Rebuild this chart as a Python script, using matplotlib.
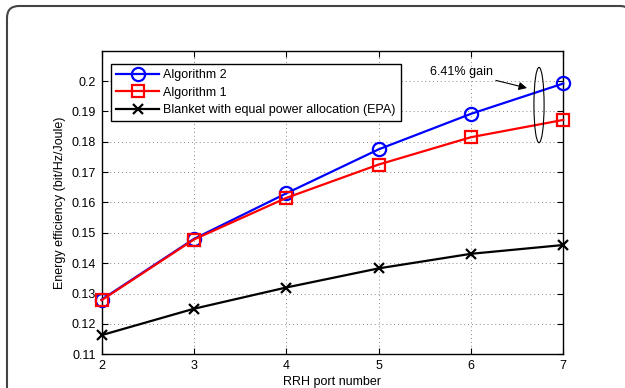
import numpy as np
import matplotlib
matplotlib.use("Agg")
import matplotlib.pyplot as plt
from matplotlib.patches import Ellipse, FancyBboxPatch

plt.rcParams['font.family'] = ['Liberation Sans', 'DejaVu Sans']

ports = [2, 3, 4, 5, 6, 7]
alg2 = [0.128, 0.148, 0.163, 0.1775, 0.1892, 0.1992]
alg1 = [0.1278, 0.1478, 0.1615, 0.1725, 0.1815, 0.1872]
epa = [0.1163, 0.125, 0.132, 0.1383, 0.1431, 0.1460]
yticks = [0.11, 0.12, 0.13, 0.14, 0.15, 0.16, 0.17, 0.18, 0.19, 0.2]

W, H = 625, 388
fig = plt.figure(figsize=(W / 100, H / 100), dpi=100)

# rounded frame behind everything
bg = fig.add_axes([0, 0, 1, 1], zorder=0)
bg.set_xlim(0, W)
bg.set_ylim(H, 0)
bg.axis("off")
bg.add_patch(FancyBboxPatch((7, 6), 625, 400, boxstyle="round,pad=0,rounding_size=12",
                            fc="white", ec="#444444", lw=1.5))

ax = fig.add_axes([101.5 / W, 1 - 354.3 / H, (563.3 - 101.5) / W, (354.3 - 51) / H], zorder=1)
ax.plot(ports, alg2, color="blue", lw=1.6, marker="o", ms=9.5, mfc="none", mew=1.6,
        label="Algorithm 2", clip_on=False, zorder=3)
ax.plot(ports, alg1, color="red", lw=1.6, marker="s", ms=8, mfc="none", mew=1.6,
        label="Algorithm 1", clip_on=False, zorder=3)
ax.plot(ports, epa, color="black", lw=1.6, marker="x", ms=7.5, mew=1.6,
        label="Blanket with equal power allocation (EPA)", clip_on=False, zorder=3)

ax.set_xlim(2, 7)
ax.set_ylim(0.11, 0.2099)
ax.set_xticks(ports)
ax.set_yticks(yticks)
ax.set_yticklabels([f"{v:g}" for v in yticks])
ax.tick_params(direction="in", top=True, right=True, labelsize=9, length=4, width=0.8, pad=4)
ax.grid(True, linestyle=(0, (1, 3)), color="#888888", lw=0.7)
for s in ax.spines.values():
    s.set_linewidth(1.0)
ax.set_xlabel("RRH port number", fontsize=9, labelpad=3)
ax.set_ylabel("Energy efficiency (bit/Hz/Joule)", fontsize=9, labelpad=4)

leg = ax.legend(loc="upper left", fontsize=9, fancybox=False, edgecolor="black",
                framealpha=1, handlelength=3.5, borderpad=0.4, labelspacing=0.45,
                handletextpad=0.3, borderaxespad=0, bbox_to_anchor=(0.02, 0.957))
leg.get_frame().set_linewidth(1.0)

ax.add_patch(Ellipse((6.737, 0.1921), 0.11, 0.0248, fill=False, ec="black", lw=0.8, zorder=5))
ax.annotate("6.41% gain", xy=(6.607, 0.1977), xytext=(6.24, 0.203),
            fontsize=9, ha="right", va="center",
            arrowprops=dict(arrowstyle="-|>", color="black", lw=0.8, mutation_scale=12,
                            shrinkA=0, shrinkB=0))

fig.savefig("out.png", dpi=100)
